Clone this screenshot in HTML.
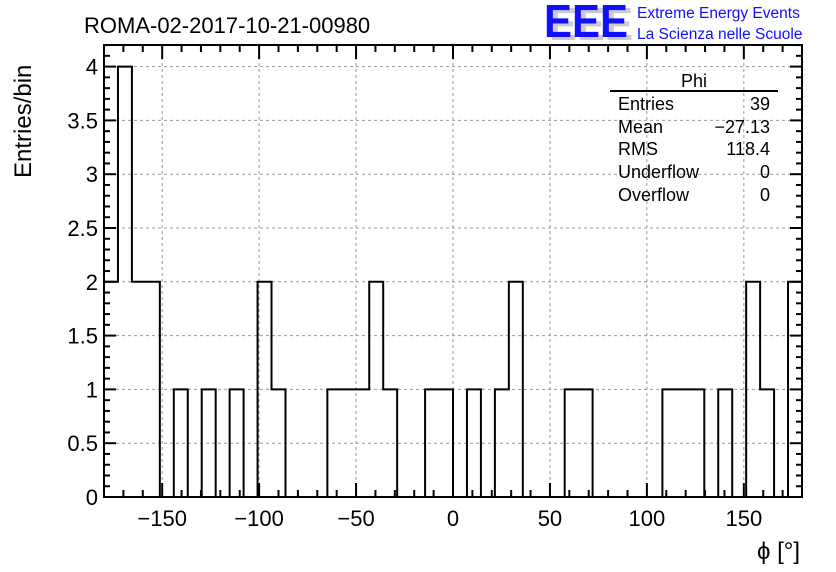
<!DOCTYPE html>
<html><head><meta charset="utf-8"><style>
body{margin:0;background:#fff}
svg{display:block;font-family:"Liberation Sans",sans-serif}
</style></head><body>
<svg id="chart" width="836" height="572">
<text x="84" y="33" font-size="22">ROMA-02-2017-10-21-00980</text>
<g>
<text x="549" y="40" font-size="46" fill="#ccc" font-weight="bold" textLength="84" lengthAdjust="spacingAndGlyphs">EEE</text>
<text x="544" y="37" font-size="46" fill="#1010ff" font-weight="bold" textLength="84" lengthAdjust="spacingAndGlyphs">EEE</text>
<text x="637" y="18" font-size="15.5" fill="#1010ff">Extreme Energy Events</text>
<text x="637" y="39" font-size="15.5" fill="#1010ff">La Scienza nelle Scuole</text>
</g>
<g id="grid"></g><g id="ticks"></g><g id="hist"></g>
<rect x="104" y="45" width="698" height="452" fill="none" stroke="#000" stroke-width="2"/>
<g font-size="18">
<text x="694" y="87" text-anchor="middle">Phi</text>
<line x1="610" y1="91" x2="778" y2="91" stroke="#000" stroke-width="2"/>
<text x="618" y="110">Entries</text><text x="770" y="110" text-anchor="end">39</text>
<text x="618" y="133">Mean</text><text x="770" y="133" text-anchor="end">−27.13</text>
<text x="618" y="155">RMS</text><text x="770" y="155" text-anchor="end">118.4</text>
<text x="618" y="178">Underflow</text><text x="770" y="178" text-anchor="end">0</text>
<text x="618" y="201">Overflow</text><text x="770" y="201" text-anchor="end">0</text>
</g>
<text transform="translate(31,178) rotate(-90)" font-size="24">Entries/bin</text>
<text x="800" y="559" font-size="24" text-anchor="end">ϕ [°]</text>
</svg>
<script>
const counts=[2,4,2,2,0,1,0,1,0,1,0,2,1,0,0,0,1,1,1,2,1,0,0,1,1,0,1,0,1,2,0,0,0,1,1,0,0,0,0,0,1,1,1,0,1,0,2,1,0,2];
const xTicks=[-150,-100,-50,0,50,100,150];
const yTicks=[0,0.5,1,1.5,2,2.5,3,3.5,4];
const xMin=-180,xMax=180,binW=7.2;
const L=104,R=802,T=45,B=497;
const X=v=>L+(v-xMin)/(xMax-xMin)*(R-L);
const Y=v=>B-v*107.6;
const NS="http://www.w3.org/2000/svg";
function mk(p,tag,a){const e=document.createElementNS(NS,tag);for(const k in a)e.setAttribute(k,a[k]);p.appendChild(e);return e;}
const grid=document.getElementById('grid'),ticks=document.getElementById('ticks'),hist=document.getElementById('hist');
xTicks.forEach(v=>{
 const g=mk(grid,'line',{x1:X(v),x2:X(v),y1:T,y2:B,stroke:'#999','stroke-dasharray':'3,3'});
 
 
 const t=mk(ticks,'text',{x:X(v),y:B+29,'font-size':22,'text-anchor':'middle'});
 t.textContent=v<0?'−'+Math.abs(v):String(v);
 
 
});
yTicks.forEach(v=>{
 if(v>0){const g=mk(grid,'line',{x1:L,x2:R,y1:Y(v),y2:Y(v),stroke:'#999','stroke-dasharray':'3,3'});
 
 }
 const t=mk(ticks,'text',{x:L-6,y:Y(v)+8,'font-size':22,'text-anchor':'end'});
 t.textContent=String(v);
 
 
});
for(let v=-180;v<=180;v+=10){const maj=v%50===0,len=maj?14:7;
 mk(ticks,'line',{x1:X(v),x2:X(v),y1:B,y2:B-len,stroke:'#000','stroke-width':2});
 mk(ticks,'line',{x1:X(v),x2:X(v),y1:T,y2:T+len,stroke:'#000','stroke-width':2});}
for(let i=0;i<=42;i++){const v=i*0.1,maj=i%5===0,len=maj?12:6;
 if(Y(v)<T)break;
 mk(ticks,'line',{x1:L,x2:L+len,y1:Y(v),y2:Y(v),stroke:'#000','stroke-width':2});
 mk(ticks,'line',{x1:R,x2:R-len,y1:Y(v),y2:Y(v),stroke:'#000','stroke-width':2});}
let d='M'+X(xMin)+','+Y(0);
counts.forEach((c,i)=>{const x0=X(xMin+i*binW),x1=X(xMin+(i+1)*binW);d+=' L'+x0+','+Y(c)+' L'+x1+','+Y(c);});
d+=' L'+X(xMax)+','+Y(0);
const p=mk(hist,'path',{d:d,fill:'none',stroke:'#000','stroke-width':2});


</script>
</body></html>
